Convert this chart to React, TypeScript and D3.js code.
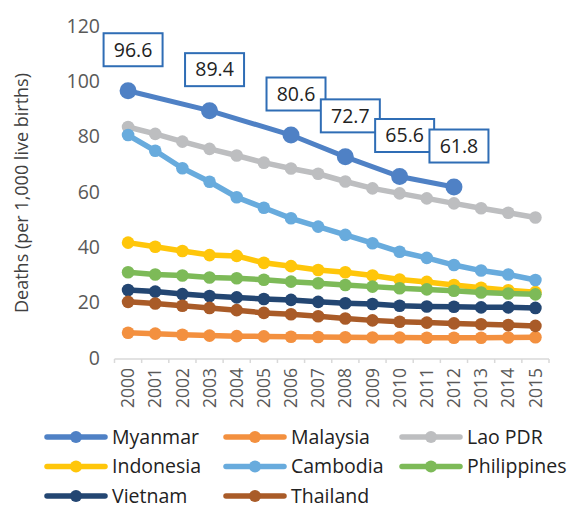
import React from "react";
import * as d3 from "d3";

const years = ["2000","2001","2002","2003","2004","2005","2006","2007","2008","2009","2010","2011","2012","2013","2014","2015"];
const yTicks = [0, 20, 40, 60, 80, 100, 120];

const myanmarYears = ["2000", "2003", "2006", "2008", "2010", "2012"];
const myanmar = [96.6, 89.4, 80.6, 72.7, 65.6, 61.8];
const malaysia = [9.1, 8.8, 8.4, 8.1, 7.9, 7.8, 7.7, 7.6, 7.5, 7.4, 7.4, 7.3, 7.3, 7.3, 7.4, 7.5];
const lao = [83.5, 81.0, 78.2, 75.6, 73.2, 70.6, 68.5, 66.6, 63.8, 61.3, 59.5, 57.7, 55.9, 54.1, 52.5, 50.8];
const indonesia = [41.7, 40.2, 38.7, 37.2, 36.9, 34.4, 33.2, 31.8, 31.0, 29.8, 28.4, 27.5, 26.4, 25.4, 24.5, 23.8];
const cambodia = [80.6, 74.9, 68.6, 63.7, 58.1, 54.3, 50.5, 47.5, 44.5, 41.5, 38.4, 36.2, 33.6, 31.6, 30.2, 28.2];
const philippines = [31.0, 30.2, 29.8, 29.1, 28.8, 28.3, 27.6, 27.0, 26.4, 25.8, 25.2, 24.8, 24.3, 23.7, 23.3, 23.0];
const vietnam = [24.6, 24.0, 23.1, 22.4, 21.9, 21.3, 21.0, 20.3, 19.8, 19.5, 18.9, 18.6, 18.5, 18.3, 18.3, 18.1];
const thailand = [20.3, 19.7, 18.9, 18.1, 17.3, 16.3, 15.8, 15.1, 14.3, 13.6, 13.1, 12.8, 12.5, 12.2, 11.9, 11.6];

const seriesNames = ["Myanmar", "Malaysia", "Lao PDR", "Indonesia", "Cambodia", "Philippines", "Vietnam", "Thailand"];
const seriesColors = ["#4F81C5", "#F3903F", "#BDBEC0", "#FFC60A", "#68ABDD", "#7DBA58", "#234672", "#A95B28"];

const FONT = "'Open Sans', sans-serif";

export default function App() {
  const width = 568, height = 509;
  const x = d3.scaleBand<string>().domain(years).range([114.5, 549]);
  const cx = (yr: string) => (x(yr) as number) + x.bandwidth() / 2;
  const y = d3.scaleLinear().domain([0, 120]).range([358, 26]);

  const fullSeries = [
    { name: seriesNames[1], color: seriesColors[1], values: malaysia },
    { name: seriesNames[2], color: seriesColors[2], values: lao },
    { name: seriesNames[3], color: seriesColors[3], values: indonesia },
    { name: seriesNames[4], color: seriesColors[4], values: cambodia },
    { name: seriesNames[5], color: seriesColors[5], values: philippines },
    { name: seriesNames[6], color: seriesColors[6], values: vietnam },
    { name: seriesNames[7], color: seriesColors[7], values: thailand },
  ];

  const line = d3.line<[string, number]>().x(d => cx(d[0])).y(d => y(d[1]));
  const myPts: [string, number][] = myanmarYears.map((yr, i) => [yr, myanmar[i]]);

  const ticks = d3.range(years.length + 1).map(i => 114.5 + i * x.step());

  const legendCols = [47, 226, 402];
  const legendRows = [437, 466.5, 496];

  return (
    <svg width={width} height={height} style={{ position: "absolute", left: 0, top: 0, background: "#fff" }} fontFamily={FONT}>
      {/* y tick labels */}
      {yTicks.map(t => (
        <text key={t} x={100} y={y(t)} dy="0.35em" textAnchor="end" fontSize={19.5} fill="#595959">{t}</text>
      ))}
      {/* y title */}
      <text transform={`translate(28,${193}) rotate(-90)`} textAnchor="middle" fontSize={18} fill="#404040">
        Deaths (per 1,000 live births)
      </text>
      {/* x axis */}
      <line x1={114.5} x2={549} y1={359} y2={359} stroke="#D9D9D9" strokeWidth={1.5} />
      {ticks.map((t, i) => (
        <line key={i} x1={t} x2={t} y1={359} y2={363} stroke="#D9D9D9" strokeWidth={1.5} />
      ))}
      {years.map(yr => (
        <text key={yr} transform={`translate(${cx(yr)},368) rotate(-90)`} textAnchor="end" dy="0.35em" fontSize={17.5} fill="#595959">{yr}</text>
      ))}
      {/* Myanmar */}
      <path d={line(myPts) || ""} fill="none" stroke={seriesColors[0]} strokeWidth={5} />
      {myPts.map((p, i) => (
        <circle key={i} cx={cx(p[0])} cy={y(p[1])} r={8.5} fill={seriesColors[0]} />
      ))}
      {/* other series */}
      {fullSeries.map(s => {
        const pts: [string, number][] = years.map((yr, i) => [yr, s.values[i]]);
        return (
          <g key={s.name}>
            <path d={line(pts) || ""} fill="none" stroke={s.color} strokeWidth={5.5} />
            {pts.map((p, i) => (
              <circle key={i} cx={cx(p[0])} cy={y(p[1])} r={6.3} fill={s.color} />
            ))}
          </g>
        );
      })}
      {/* data labels */}
      {myPts.map((p, i) => {
        const bx = cx(p[0]) + 5;
        const by = y(p[1]) - 41;
        return (
          <g key={i}>
            <rect x={bx - 29.5} y={by - 16.5} width={59} height={33} fill="#fff" stroke="#2F6DB5" strokeWidth={2} />
            <text x={bx} y={by} dy="0.35em" textAnchor="middle" fontSize={19.5} fill="#222">{p[1].toFixed(1)}</text>
          </g>
        );
      })}
      {/* legend */}
      {seriesNames.map((n, i) => {
        const lx = legendCols[i % 3];
        const ly = legendRows[Math.floor(i / 3)];
        return (
          <g key={n}>
            <line x1={lx} x2={lx + 58} y1={ly} y2={ly} stroke={seriesColors[i]} strokeWidth={5.5} strokeLinecap="round" />
            <circle cx={lx + 29} cy={ly} r={6} fill={seriesColors[i]} />
            <text x={lx + 65} y={ly} dy="0.35em" fontSize={19.5} fill="#222">{n}</text>
          </g>
        );
      })}
    </svg>
  );
}
